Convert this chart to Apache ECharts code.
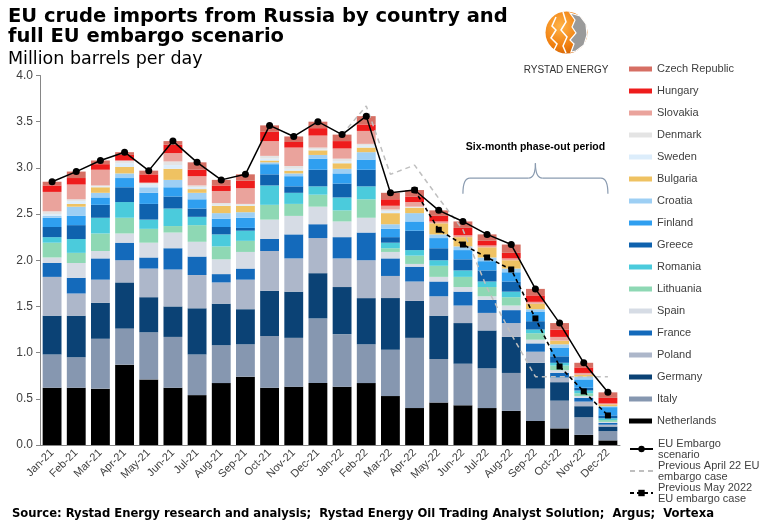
<!DOCTYPE html>
<html><head><meta charset="utf-8">
<script src="https://cdn.jsdelivr.net/npm/echarts@6/dist/echarts.min.js"></script>
<style>html,body{margin:0;padding:0;background:#fff}#c{width:764px;height:529px}</style>
</head><body><div id="c"></div><script>
const months = ['Jan-21','Feb-21','Mar-21','Apr-21','May-21','Jun-21','Jul-21','Aug-21','Sep-21','Oct-21','Nov-21','Dec-21',
                'Jan-22','Feb-22','Mar-22','Apr-22','May-22','Jun-22','Jul-22','Aug-22','Sep-22','Oct-22','Nov-22','Dec-22'];
const netherlands = [.62,.62,.61,.87,.71,.62,.54,.67,.74,.62,.63,.67,.63,.67,.53,.40,.46,.43,.40,.37,.26,.18,.11,.05];
const italy       = [.36,.33,.54,.39,.51,.55,.44,.41,.35,.56,.53,.70,.57,.42,.50,.76,.47,.45,.43,.41,.35,.30,.19,.10];
const germany     = [.42,.45,.39,.50,.38,.33,.50,.45,.38,.49,.50,.49,.51,.50,.56,.40,.47,.44,.41,.39,.28,.20,.12,.05];
const poland      = [.42,.24,.25,.24,.31,.40,.36,.23,.32,.43,.36,.38,.31,.41,.24,.21,.21,.19,.19,.15,.12,.05,.05,.02];
const france      = [.15,.17,.23,.19,.12,.23,.20,.09,.12,.13,.26,.15,.23,.30,.19,.16,.16,.15,.14,.14,.09,.05,.04,.02];
const spain       = [.06,.16,.08,.10,.16,.17,.16,.16,.18,.21,.20,.19,.17,.16,.07,.03,.05,.05,.04,.05,.04,.03,.02,.01];
const lithuania   = [.16,.11,.19,.17,.15,.07,.18,.14,.12,.16,.13,.13,.12,.20,.04,.09,.12,.11,.10,.09,.07,.05,.03,.02];
const romania     = [.06,.15,.17,.17,.10,.19,.09,.13,.11,.21,.12,.09,.14,.14,.06,.06,.06,.07,.06,.06,.04,.03,.03,.02];
const greece      = [.11,.15,.14,.16,.17,.13,.09,.08,.03,.12,.07,.18,.15,.18,.06,.21,.13,.12,.12,.11,.09,.07,.03,.03];
const finland     = [.10,.10,.08,.10,.12,.10,.10,.09,.11,.11,.11,.12,.11,.11,.09,.10,.11,.10,.10,.10,.10,.09,.09,.09];
const croatia     = [.02,.10,.05,.05,.06,.08,.07,.06,.06,.02,.03,.04,.05,.08,.05,.09,.04,.04,.04,.04,.03,.04,.03,.01];
const bulgaria    = [.00,.03,.06,.07,.00,.12,.04,.08,.07,.02,.03,.05,.06,.05,.12,.06,.12,.10,.11,.09,.06,.04,.02,.02];
const sweden      = [.02,.03,.01,.04,.03,.04,.02,.01,.01,.02,.02,.01,.02,.02,.02,.01,0,0,0,0,0,0,0,0];
const denmark     = [.03,.02,.01,.03,.02,.04,.02,.02,.01,.03,.03,.02,.03,.02,.02,0,0,0,0,0,0,0,0,0];
const slovakia    = [.21,.16,.17,.00,.00,.09,.10,.13,.17,.16,.20,.13,.11,.14,.04,.05,.02,.02,.02,.02,.02,.04,.02,.01];
const hungary     = [.07,.07,.06,.06,.09,.09,.07,.06,.08,.10,.06,.08,.08,.07,.07,.06,.06,.08,.05,.06,.07,.08,.06,.06];
const czech       = [.04,.07,.04,.03,.04,.04,.08,.06,.07,.07,.06,.07,.07,.09,.07,.07,.06,.07,.07,.09,.07,.07,.05,.06];
const embargo   = [2.85,2.96,3.08,3.17,2.97,3.29,3.06,2.87,2.93,3.46,3.34,3.50,3.36,3.56,2.73,2.76,2.54,2.42,2.28,2.17,1.69,1.32,0.89,0.57];
const aprilCase = [null,null,null,null,null,null,null,null,null,null,null,null,3.36,3.67,2.93,3.03,2.67,2.33,1.70,1.20,0.74,0.74,0.74,0.74];
const mayCase   = [null,null,null,null,null,null,null,null,null,null,null,null,null,null,null,2.76,2.33,2.17,2.03,1.90,1.37,0.85,0.58,0.32];
const yTicks = {min:0, max:4, interval:0.5};

const countries = [
  ['Netherlands', netherlands, '#000000'],
  ['Italy', italy, '#8697b0'],
  ['Germany', germany, '#0b4275'],
  ['Poland', poland, '#adb7ca'],
  ['France', france, '#146abb'],
  ['Spain', spain, '#d6dce5'],
  ['Lithuania', lithuania, '#8ed8b4'],
  ['Romania', romania, '#4bcbdc'],
  ['Greece', greece, '#0f62ae'],
  ['Finland', finland, '#2f9ff0'],
  ['Croatia', croatia, '#9dcff4'],
  ['Bulgaria', bulgaria, '#efc262'],
  ['Sweden', sweden, '#dcedfb'],
  ['Denmark', denmark, '#e4e4e4'],
  ['Slovakia', slovakia, '#eaa39c'],
  ['Hungary', hungary, '#ee1c1c'],
  ['Czech Republic', czech, '#d66f64']
];
const series = countries.map(([name, data, color]) => ({
  name, type: 'bar', stack: 'total', data, barCategoryGap: '22%',
  itemStyle: {color}, emphasis: {disabled: true}
}));
series.push({name: 'Previous April 22 EU embargo case', type: 'line', data: aprilCase, symbol: 'none',
  lineStyle: {color: '#bfbfbf', width: 1.5, type: [5, 4]}, itemStyle: {color: '#bfbfbf'}, z: 3});
series.push({name: 'Previous May 2022 EU embargo case', type: 'line', data: mayCase, symbol: 'rect', symbolSize: 6,
  lineStyle: {color: '#000', width: 1.6, type: [4, 3]}, itemStyle: {color: '#000'}, z: 4});
series.push({name: 'EU Embargo scenario', type: 'line', data: embargo, symbol: 'circle', symbolSize: 7,
  lineStyle: {color: '#000', width: 1.5}, itemStyle: {color: '#000'}, z: 5});

const legendNames = {
  'EU Embargo scenario': 'EU Embargo\nscenario',
  'Previous April 22 EU embargo case': 'Previous April 22 EU\nembargo case',
  'Previous May 2022 EU embargo case': 'Previous May 2022\nEU embargo case'
};
const txt = {fontFamily: 'Liberation Sans, Arial, sans-serif', fontSize: 11, color: '#404040'};

const chart = echarts.init(document.getElementById('c'));
chart.setOption({
  animation: false,
  backgroundColor: '#fff',
  title: [
    {text: 'EU crude imports from Russia by country and\nfull EU embargo scenario', left: 3, top: 2,
     textStyle: {fontFamily: 'DejaVu Sans', fontWeight: 'bold', fontSize: 19.5, lineHeight: 20, color: '#000'}},
    {text: 'Million barrels per day', left: 3, top: 45,
     textStyle: {fontFamily: 'DejaVu Sans', fontWeight: 'normal', fontSize: 17.5, color: '#000'}},
    {text: 'Source: Rystad Energy research and analysis;  Rystad Energy Oil Trading Analyst Solution;  Argus;  Vortexa',
     left: 7, top: 503, textStyle: {fontFamily: 'DejaVu Sans', fontWeight: 'bold', fontSize: 11.6, color: '#000'}}
  ],
  grid: {left: 40, right: 144, top: 75.5, bottom: 84, containLabel: false},
  xAxis: {type: 'category', data: months,
    axisLine: {lineStyle: {color: '#868686'}}, axisTick: {show: false},
    axisLabel: Object.assign({rotate: 45, interval: 0, margin: 6}, txt)},
  yAxis: {type: 'value', min: yTicks.min, max: yTicks.max, interval: yTicks.interval,
    splitLine: {show: false},
    axisLine: {show: true, lineStyle: {color: '#868686'}},
    axisTick: {show: true, length: 4, lineStyle: {color: '#868686'}},
    axisLabel: Object.assign({formatter: v => v.toFixed(1), margin: 7}, txt, {fontSize: 12})},
  legend: [
    {data: countries.map(c => c[0]).reverse(), orient: 'vertical', left: 624, top: 57.5,
     icon: 'rect', itemWidth: 23, itemHeight: 5, itemGap: 9,
     textStyle: Object.assign({lineHeight: 13}, txt), selectedMode: false},
    {data: ['EU Embargo scenario',
            {name: 'Previous April 22 EU embargo case', itemStyle: {opacity: 0}},
            'Previous May 2022 EU embargo case'],
     orient: 'vertical', left: 624, top: 433, itemWidth: 23, itemHeight: 8, itemGap: 0,
     formatter: n => legendNames[n] || n,
     textStyle: Object.assign({lineHeight: 11}, txt), selectedMode: false}
  ],
  series
});

// annotations positioned through the chart's own scales
const pL = chart.convertToPixel({gridIndex: 0}, [17, 2.72]);
const pR = chart.convertToPixel({gridIndex: 0}, [23, 2.72]);
const yM = chart.convertToPixel({gridIndex: 0}, [0, 2.89])[1];
const yP = chart.convertToPixel({gridIndex: 0}, [0, 3.05])[1];
const yT = chart.convertToPixel({gridIndex: 0}, [0, 3.23])[1];
const xL = pL[0], xR = pR[0], yB = pL[1], mid = (xL + xR) / 2;
const bs = {fill: null, stroke: '#8a9bb0', lineWidth: 1.2};
chart.setOption({
  graphic: [
    {type: 'bezierCurve', shape: {x1: xL, y1: yB, x2: xL + 7, y2: yM, cpx1: xL, cpy1: yM}, style: bs},
    {type: 'line', shape: {x1: xL + 7, y1: yM, x2: mid - 7, y2: yM}, style: bs},
    {type: 'bezierCurve', shape: {x1: mid - 7, y1: yM, x2: mid, y2: yP, cpx1: mid, cpy1: yM}, style: bs},
    {type: 'bezierCurve', shape: {x1: mid, y1: yP, x2: mid + 7, y2: yM, cpx1: mid, cpy1: yM}, style: bs},
    {type: 'line', shape: {x1: mid + 7, y1: yM, x2: xR - 7, y2: yM}, style: bs},
    {type: 'bezierCurve', shape: {x1: xR - 7, y1: yM, x2: xR, y2: yB, cpx1: xR, cpy1: yM}, style: bs},
    {type: 'text', x: mid, y: yT, style: {text: 'Six-month phase-out period', textAlign: 'center', textVerticalAlign: 'middle',
      font: 'bold 10.5px "Liberation Sans", Arial, sans-serif', fill: '#000'}},
    // logo
    {type: 'circle', shape: {cx: 566.5, cy: 32.5, r: 21},
     style: {fill: new echarts.graphic.RadialGradient(0.35, 0.35, 0.8, [{offset: 0, color: '#ffb347'}, {offset: 0.6, color: '#f07f10'}, {offset: 1, color: '#c85a00'}])}},
    {type: 'polygon', shape: {points: [[570,13],[580,16],[586,24],[587,35],[584,45],[576,51],[571,52],[574,44],[570,40],[576,33],[572,27],[575,20]]},
     style: {fill: '#9a9a9a', stroke: '#fff', lineWidth: 1.2}},
    {type: 'polyline', shape: {points: [[556,17],[552,26],[556,30],[551,38],[557,44],[554,50]]}, style: {fill: null, stroke: '#fff', lineWidth: 1.5}},
    {type: 'polyline', shape: {points: [[563,12],[566,22],[561,30],[567,37],[563,46],[566,53]]}, style: {fill: null, stroke: '#fff', lineWidth: 1.5}},
    {type: 'text', x: 566, y: 70, style: {text: 'RYSTAD ENERGY', textAlign: 'center', textVerticalAlign: 'middle',
      font: '10px "Liberation Sans Narrow", "Liberation Sans", Arial, sans-serif', fill: '#333'}}
  ]
});
</script></body></html>
